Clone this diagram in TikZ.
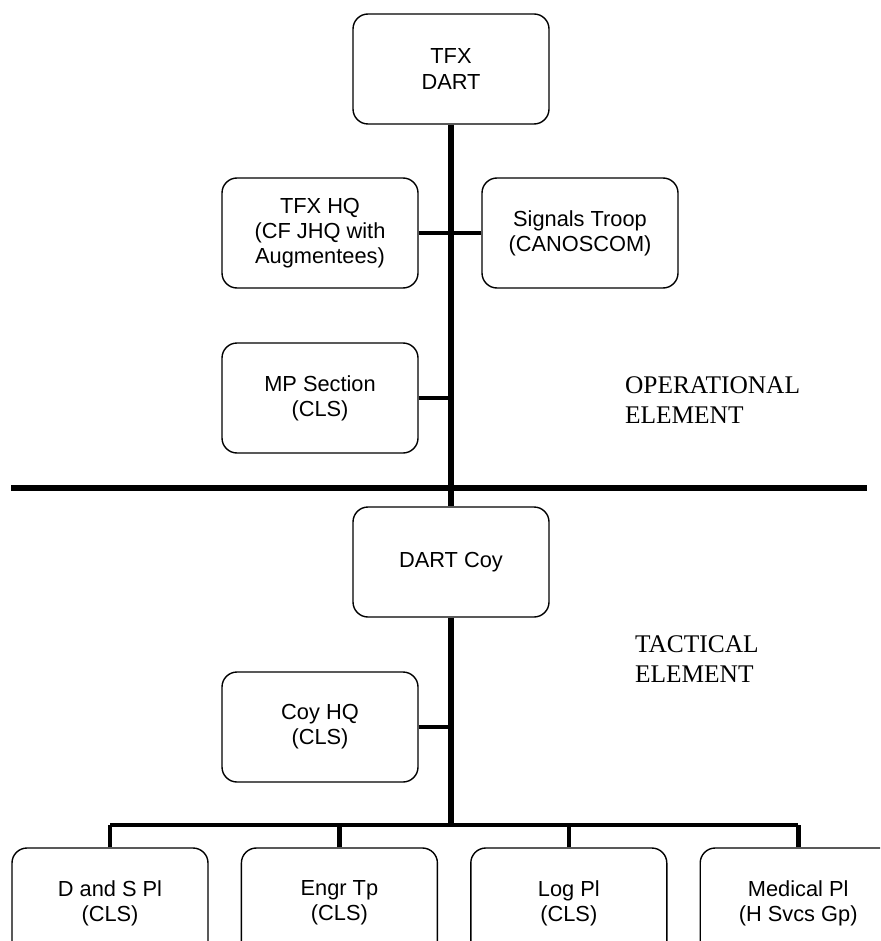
\documentclass[tikz,border=0pt]{standalone}
\usepackage{fontspec}
\setmainfont{Liberation Serif}
\setsansfont{Liberation Sans}
\usepackage{tikz}
\usetikzlibrary{positioning}

\begin{document}
\begin{tikzpicture}[
  x=0.5pt, y=-0.5pt,
  box/.style={draw, line width=0.7pt, rounded corners=7.5pt, minimum width=98pt,
              minimum height=55pt, align=center,
              font=\sffamily\fontsize{10.9}{12.6}\selectfont},
  spine/.style={line width=2.8pt},
  link/.style={line width=2.3pt},
  divider/.style={line width=3.3pt},
  elem/.style={anchor=west, align=left, font=\fontsize{12.7}{15}\selectfont},
  node distance=16pt
]
  \useasboundingbox (0,0) rectangle (880,941);
  \clip (0,0) rectangle (880,941);

  % Nodes
  \node[box] (tfxdart) at (451,69)  {TFX\\DART};
  \node[box] (tfxhq)   at (320,233) {TFX HQ\\(CF JHQ with\\Augmentees)};
  \node[box] (sigtp)   at (580,233) {Signals Troop\\(CANOSCOM)};
  \node[box] (mpsec)   at (320,398) {MP Section\\(CLS)};
  \node[box] (dartcoy) at (451,562) {DART Coy};
  \node[box] (coyhq)   at (320,727) {Coy HQ\\(CLS)};

  % Platoons
  \node[box] (dspl) at (110,903) {D and S Pl\\(CLS)};
  \node[box, right=of dspl]  (engtp) {Engr Tp\\(CLS)};
  \node[box, right=of engtp] (logpl) {Log Pl\\(CLS)};
  \node[box, right=of logpl] (medpl) {Medical Pl\\(H Svcs Gp)};

  % Element labels
  \node[elem] (opelem)  at (618,400) {OPERATIONAL\\ELEMENT};
  \node[elem] (tacelem) at (628,659) {TACTICAL\\ELEMENT};

  % Dividing line
  \coordinate (divl) at (11,488);
  \coordinate (divr) at (867,488);
  \draw[divider] (divl) -- (divr);

  % Connectors
  \coordinate (bus) at (451,825);
  \draw[spine] (tfxdart) -- (dartcoy);
  \draw[spine] (dartcoy) -- (bus);
  \draw[link] (tfxhq.east) -- (tfxhq.east -| tfxdart.south);
  \draw[link] (sigtp.west) -- (sigtp.west -| tfxdart.south);
  \draw[link] (mpsec.east) -- (mpsec.east -| tfxdart.south);
  \draw[link] (coyhq.east) -- (coyhq.east -| dartcoy.south);
  \draw[link] (dspl.north |- bus) -- (medpl.north |- bus);
  \foreach \pl in {dspl,engtp,logpl,medpl}
    \draw[link] (\pl.north) -- (\pl.north |- bus);
\end{tikzpicture}
\end{document}
